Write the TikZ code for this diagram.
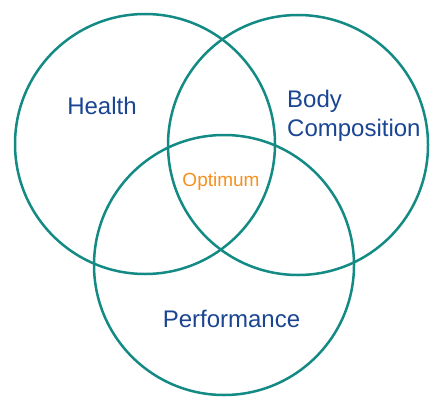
\documentclass[tikz,border=0pt]{standalone}
\usepackage{fontspec}
\setmainfont{Liberation Sans}
\definecolor{ringteal}{HTML}{138A84}
\definecolor{labelblue}{HTML}{1A4592}
\definecolor{optorange}{HTML}{F7901E}
\begin{document}
\begin{tikzpicture}[x=1pt,y=-1pt,
  ring/.style={circle,draw=ringteal,line width=2.5pt,minimum size=260pt,inner sep=0pt},
  lbl/.style={text=labelblue,font=\fontsize{24}{29}\selectfont,inner sep=0pt},
  opt/.style={text=optorange,font=\fontsize{19}{23}\selectfont,inner sep=0pt}]
\useasboundingbox (0,0) rectangle (441,404);
\node[ring] (health) at (145,144) {};
\node[ring] (body) at (298,145) {};
\node[ring] (perf) at (224,265) {};
\node[lbl,anchor=base] (thealth) at (102,114) {Health};
\node[lbl,anchor=base west] (tbody) at (287,107) {Body};
\node[lbl,anchor=base west] (tcomp) at (287,136.5) {Composition};
\node[lbl,anchor=base] (tperf) at (231.5,327) {Performance};
\node[opt,anchor=base] (topt) at (221,186) {Optimum};
\end{tikzpicture}
\end{document}
